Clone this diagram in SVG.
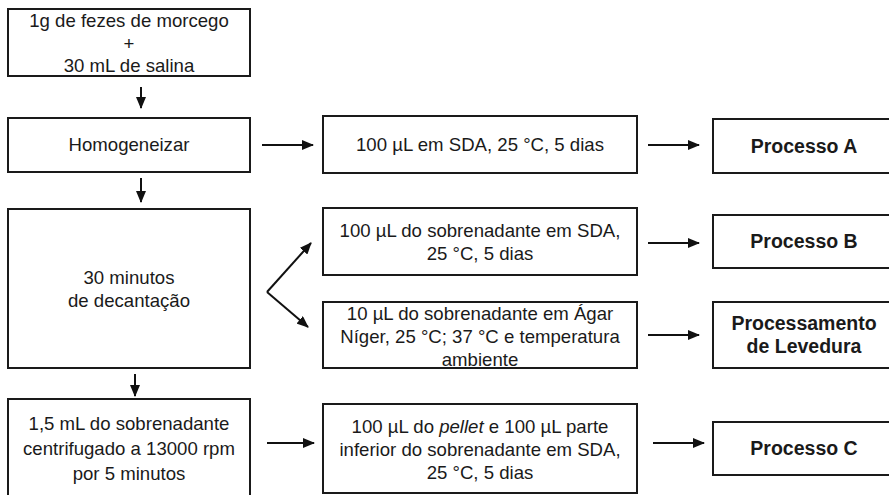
<svg xmlns="http://www.w3.org/2000/svg" width="889" height="495" viewBox="0 0 889 495">
<defs>
<marker id="ah" markerUnits="userSpaceOnUse" markerWidth="12" markerHeight="10" refX="11" refY="5" orient="auto">
<path d="M0,0 L12,5 L0,10 z" fill="#111"/>
</marker>
<style>
.box{fill:#fff;stroke:#1a1a1a;stroke-width:2}
.t{font-family:"Liberation Sans",Arial,sans-serif;font-size:18.6px;fill:#1a1a1a;text-anchor:middle}
.b{font-weight:bold;font-size:19.5px}
.c{stroke:#111;stroke-width:2;fill:none;marker-end:url(#ah)}
</style>
</defs>
<rect width="889" height="495" fill="#fff"/>
<g id="n1"><rect class="box" x="8" y="9" width="242" height="67"/>
<text class="t" x="129" y="27">1g de fezes de morcego</text>
<text class="t" x="129" y="50">+</text>
<text class="t" x="129" y="72">30 mL de salina</text></g>
<g id="n2"><rect class="box" x="8" y="118" width="242" height="54"/>
<text class="t" x="129" y="151">Homogeneizar</text></g>
<g id="n3"><rect class="box" x="8" y="209" width="242" height="159"/>
<text class="t" x="129" y="284">30 minutos</text>
<text class="t" x="129" y="307">de decantação</text></g>
<g id="n4"><rect class="box" x="8" y="399" width="242" height="110"/>
<text class="t" x="129" y="430">1,5 mL do sobrenadante</text>
<text class="t" x="129" y="455">centrifugado a 13000 rpm</text>
<text class="t" x="129" y="480">por 5 minutos</text></g>
<g id="m1"><rect class="box" x="323" y="116" width="314" height="57"/>
<text class="t" x="480" y="151">100 µL em SDA, 25 °C, 5 dias</text></g>
<g id="m2"><rect class="box" x="323" y="208" width="314" height="67"/>
<text class="t" x="480" y="237">100 µL do sobrenadante em SDA,</text>
<text class="t" x="480" y="260">25 °C, 5 dias</text></g>
<g id="m3"><rect class="box" x="323" y="302" width="314" height="66"/>
<text class="t" x="480" y="320">10 µL do sobrenadante em Ágar</text>
<text class="t" x="480" y="343">Níger, 25 °C; 37 °C e temperatura</text>
<text class="t" x="480" y="366">ambiente</text></g>
<g id="m4"><rect class="box" x="323" y="404" width="314" height="89"/>
<text class="t" x="480" y="433">100 µL do <tspan font-style="italic">pellet</tspan> e 100 µL parte</text>
<text class="t" x="480" y="456">inferior do sobrenadante em SDA,</text>
<text class="t" x="480" y="479">25 °C, 5 dias</text></g>
<g id="r1"><rect class="box" x="713" y="119" width="182" height="54"/>
<text class="t b" x="804" y="153">Processo A</text></g>
<g id="r2"><rect class="box" x="713" y="215" width="182" height="53"/>
<text class="t b" x="804" y="248">Processo B</text></g>
<g id="r3"><rect class="box" x="713" y="302" width="182" height="66"/>
<text class="t b" x="804" y="330">Processamento</text>
<text class="t b" x="804" y="353">de Levedura</text></g>
<g id="r4"><rect class="box" x="713" y="422" width="182" height="53"/>
<text class="t b" x="804" y="455">Processo C</text></g>
<g id="connectors">
<line class="c" x1="141" y1="87" x2="141" y2="108"/>
<line class="c" x1="141" y1="178" x2="141" y2="202"/>
<line class="c" x1="135" y1="374" x2="135" y2="396"/>
<line class="c" x1="262" y1="145" x2="313" y2="145"/>
<line class="c" x1="267" y1="443" x2="314" y2="443"/>
<line class="c" x1="267" y1="292" x2="311" y2="243"/>
<line class="c" x1="267" y1="292" x2="308" y2="327"/>
<line class="c" x1="648" y1="145" x2="699" y2="145"/>
<line class="c" x1="648" y1="243" x2="699" y2="243"/>
<line class="c" x1="648" y1="335" x2="699" y2="335"/>
<line class="c" x1="653" y1="443" x2="704" y2="443"/>
</g>
</svg>
